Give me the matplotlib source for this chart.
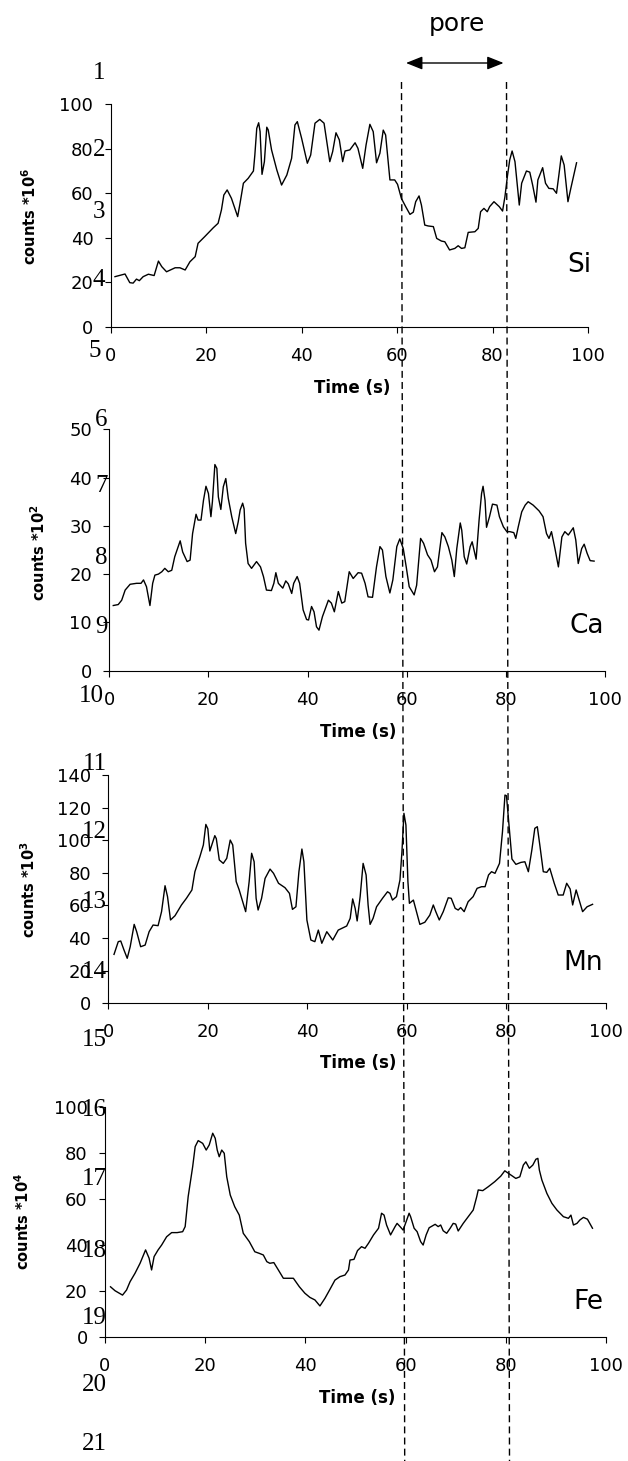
import matplotlib.pyplot as plt
from matplotlib.lines import Line2D
from matplotlib.patches import FancyArrowPatch

W, H = 628, 1461

# ── data ──────────────────────────────────────────────────────────────────────

SI_T = [0.9, 3.0, 4.0, 4.7, 5.4, 6.0, 6.8, 7.9, 9.1, 10.0, 10.7, 11.7, 13.5, 14.5,
        15.6, 16.6, 17.7, 18.3, 19.7, 21.5, 22.5, 23.2, 23.7, 24.4, 25.3, 26.6,
        27.1, 27.8, 28.8, 29.9, 30.2, 30.6, 31.0, 31.3, 31.7, 32.2, 32.7, 33.0,
        33.7, 34.8, 35.8, 36.9, 37.9, 38.6, 39.1, 40.0, 41.2, 41.9, 42.8, 43.8,
        44.7, 45.9, 46.5, 47.2, 47.9, 48.6, 49.1, 50.1, 51.2, 51.8, 52.8, 53.5,
        54.3, 55.0, 55.7, 56.4, 57.1, 57.6, 58.5, 59.5, 60.1, 60.9, 61.8, 62.7,
        63.4, 63.9, 64.6, 65.1, 65.8, 66.5, 67.6, 68.3, 69.3, 70.0, 71.0, 72.1,
        72.8, 73.5, 74.2, 74.9, 76.3, 77.0, 77.5, 78.2, 78.9, 79.4, 80.3, 81.4,
        82.1, 82.6, 83.1, 83.6, 84.1, 84.7, 85.6, 86.1, 87.1, 87.8, 88.4, 89.1,
        89.5, 90.5, 91.1, 91.8, 92.7, 93.4, 93.9, 94.4, 95.0, 95.8, 96.4, 97.6]
SI_V = [22.5, 23.7, 19.8, 19.6, 21.4, 20.7, 22.5, 23.6, 23.0, 29.5, 27.0, 24.7, 26.5, 26.5,
        25.5, 29.2, 31.5, 37.5, 40.5, 44.5, 46.5, 52.5, 59.2, 61.5, 57.7, 49.5,
        55.5, 64.5, 66.7, 70.0, 77.2, 89.2, 91.7, 87.7, 68.5, 74.2, 89.7, 88.5,
        79.5, 70.5, 63.7, 68.2, 75.7, 90.7, 92.2, 84.7, 73.5, 77.2, 91.5, 93.2,
        91.5, 74.2, 78.7, 87.2, 84.0, 74.2, 79.0, 79.5, 82.7, 80.2, 71.2, 81.7,
        91.0, 87.7, 73.7, 78.0, 88.4, 86.2, 66.0, 66.0, 64.0, 57.7, 54.0, 50.5,
        51.5, 56.2, 58.8, 54.7, 45.7, 45.3, 45.0, 39.7, 38.5, 38.2, 34.5, 35.2,
        36.4, 35.2, 35.5, 42.4, 42.7, 44.2, 51.7, 53.2, 51.7, 54.0, 56.2, 54.0,
        52.0, 58.5, 67.4, 75.0, 79.0, 74.2, 54.7, 64.5, 70.0, 69.5, 63.7, 56.0,
        66.0, 71.5, 64.5, 62.2, 62.0, 60.0, 68.2, 76.8, 72.7, 56.2, 62.2, 73.7]

CA_T = [0.8, 1.8, 2.5, 3.2, 4.2, 5.5, 6.4, 6.9, 7.5, 8.2, 8.75, 9.2, 9.9, 10.6, 11.2,
        11.9, 12.6, 13.2, 14.3, 14.8, 15.7, 16.3, 16.8, 17.5, 17.9, 18.5, 19.0, 19.5,
        20.0, 20.5, 20.8, 21.3, 21.7, 22.0, 22.5, 23.0, 23.5, 24.0, 24.7, 25.5, 26.0,
        26.4, 26.9, 27.2, 27.5, 28.0, 28.7, 29.7, 30.5, 31.1, 31.7, 32.7, 33.2, 33.6,
        34.1, 35.0, 35.6, 36.1, 36.8, 37.2, 37.9, 38.4, 39.1, 39.8, 40.2, 40.8, 41.3,
        41.8, 42.3, 43.0, 44.2, 44.8, 45.4, 46.2, 46.9, 47.5, 48.4, 49.2, 50.2, 50.9,
        51.6, 52.2, 53.1, 53.9, 54.6, 55.1, 55.8, 56.6, 57.2, 58.0, 58.6, 59.3, 59.9,
        60.5, 61.5, 62.0, 62.8, 63.4, 64.2, 64.9, 65.6, 66.2, 67.1, 67.7, 68.4, 69.1,
        69.6, 70.1, 70.8, 71.1, 71.6, 72.1, 72.8, 73.2, 74.0, 74.6, 75.1, 75.4, 75.8,
        76.1, 76.7, 77.3, 78.2, 78.7, 79.5, 80.2, 80.8, 81.6, 82.0, 82.5, 83.2, 83.9,
        84.5, 85.5, 86.7, 87.5, 88.2, 88.7, 89.2, 89.9, 90.6, 91.3, 91.9, 92.6, 93.6,
        94.1, 94.6, 95.3, 95.8, 96.4, 97.0, 97.8]
CA_V = [13.5, 13.7, 14.6, 16.7, 17.9, 18.1, 18.1, 18.8, 17.4, 13.5, 18.1, 19.8, 20.0, 20.5, 21.2,
        20.5, 20.8, 23.6, 26.9, 24.6, 22.6, 22.9, 28.4, 32.4, 31.2, 31.2, 35.3, 38.2,
        36.7, 31.9, 35.0, 42.7, 41.9, 36.0, 33.4, 38.1, 39.8, 35.7, 31.9, 28.4, 30.8,
        33.3, 34.7, 33.5, 26.4, 22.2, 21.2, 22.6, 21.5, 19.5, 16.7, 16.6, 18.1, 20.3,
        18.1, 17.1, 18.6, 18.0, 16.0, 18.1, 19.5, 18.1, 12.6, 10.6, 10.5, 13.3, 12.2,
        9.1, 8.4, 11.2, 14.6, 14.0, 12.2, 16.4, 14.0, 14.3, 20.5, 19.1, 20.3, 20.2,
        18.1, 15.3, 15.2, 21.5, 25.7, 25.0, 19.5, 16.1, 18.8, 25.7, 27.3, 25.3, 21.5,
        17.4, 15.7, 17.7, 27.4, 26.4, 24.0, 22.9, 20.5, 21.5, 28.6, 27.7, 25.7, 22.9,
        19.5, 25.3, 30.6, 29.1, 23.6, 22.1, 25.7, 26.7, 23.1, 31.2, 36.7, 38.2, 35.3,
        29.7, 31.9, 34.5, 34.3, 31.9, 29.8, 28.8, 28.8, 28.6, 27.4, 29.8, 32.9, 34.3,
        35.0, 34.3, 33.1, 31.9, 28.4, 27.4, 28.8, 25.3, 21.5, 27.7, 28.8, 28.1, 29.6,
        27.1, 22.2, 25.3, 26.2, 24.3, 22.8, 22.7]

MN_T = [1.15, 2.0, 2.5, 3.15, 3.8, 4.4, 5.2, 5.7, 6.5, 7.4, 8.2, 9.0, 10.0, 10.7, 11.4,
        11.9, 12.5, 13.4, 14.7, 15.7, 16.8, 17.4, 18.4, 19.1, 19.6, 20.0, 20.4, 20.8,
        21.4, 21.7, 22.3, 23.1, 23.8, 24.5, 25.0, 25.7, 26.3, 26.8, 27.6, 28.3, 28.8,
        29.3, 29.7, 30.1, 30.8, 31.5, 32.5, 33.2, 34.2, 35.5, 36.4, 37.0, 37.7, 38.3,
        38.9, 39.3, 39.9, 40.7, 41.5, 42.2, 42.9, 43.9, 45.1, 46.2, 47.9, 48.6, 49.1,
        49.6, 50.0, 50.6, 51.2, 51.8, 52.2, 52.6, 53.2, 53.9, 55.1, 56.1, 56.6, 57.1,
        57.9, 58.6, 59.0, 59.4, 59.8, 60.2, 60.5, 61.3, 62.0, 62.6, 63.6, 64.6, 65.3,
        65.8, 66.5, 67.3, 68.3, 68.9, 69.7, 70.3, 70.8, 71.5, 72.3, 73.3, 74.1, 75.0,
        75.7, 76.4, 77.0, 77.7, 78.6, 79.2, 79.7, 80.0, 80.5, 81.1, 81.9, 82.9, 83.7,
        84.4, 85.1, 85.7, 86.2, 86.7, 87.4, 88.1, 88.7, 89.6, 90.4, 91.4, 92.1, 92.8,
        93.3, 94.0, 94.4, 95.3, 96.2, 97.3]
MN_V = [30.0, 37.8, 38.2, 32.7, 27.6, 34.7, 48.4, 43.9, 34.7, 35.7, 43.9, 48.0, 47.6, 56.2, 72.1,
        65.4, 51.1, 53.7, 60.3, 64.4, 69.5, 80.7, 89.9, 97.1, 109.7, 107.0, 93.4, 97.1,
        102.8, 101.0, 87.9, 85.8, 88.9, 100.1, 97.1, 74.6, 69.5, 64.4, 56.2, 74.6, 92.0,
        86.8, 64.4, 57.2, 64.4, 76.6, 82.3, 79.7, 73.6, 70.9, 67.4, 57.6, 59.2, 80.7,
        94.6, 86.8, 51.1, 38.8, 37.8, 44.9, 36.8, 43.9, 38.8, 44.9, 47.4, 52.1, 64.0,
        58.2, 50.5, 65.4, 85.8, 78.7, 60.3, 48.4, 52.1, 59.2, 64.4, 68.4, 67.4, 63.3,
        65.4, 75.6, 92.9, 116.5, 109.3, 74.6, 61.3, 63.3, 55.2, 48.4, 49.7, 54.1, 60.3,
        56.2, 51.1, 56.2, 64.7, 64.4, 58.2, 57.2, 58.7, 56.2, 62.3, 65.4, 70.5, 71.5,
        71.5, 78.7, 80.7, 79.7, 85.8, 105.2, 127.7, 127.3, 109.3, 88.5, 85.2, 86.4, 86.8,
        80.7, 94.0, 107.3, 108.3, 97.1, 80.7, 80.3, 82.8, 73.6, 66.4, 66.4, 73.6, 70.1,
        60.3, 69.5, 65.4, 56.2, 59.2, 60.7]

FE_T = [1.1, 2.0, 3.5, 4.3, 5.0, 6.0, 7.0, 8.1, 8.8, 9.3, 9.8, 10.6, 11.3, 12.3, 13.3,
        14.4, 15.5, 16.0, 16.6, 17.5, 18.0, 18.6, 19.5, 20.2, 20.8, 21.5, 22.0, 22.4,
        22.8, 23.3, 23.8, 24.3, 25.0, 25.9, 26.8, 27.6, 28.8, 29.9, 30.8, 31.6, 32.3,
        32.9, 33.7, 34.6, 35.6, 36.6, 37.6, 38.8, 39.9, 40.9, 41.9, 42.9, 43.9, 44.9,
        45.9, 46.9, 47.9, 48.6, 48.9, 49.7, 50.4, 51.2, 51.9, 52.6, 53.6, 54.6, 55.2,
        55.7, 56.2, 57.0, 57.9, 58.3, 58.9, 59.5, 60.1, 60.7, 61.0, 61.7, 62.3, 63.0,
        63.5, 64.1, 64.7, 65.9, 66.5, 67.0, 67.5, 68.2, 68.9, 69.5, 70.0, 70.5, 71.5,
        72.5, 73.5, 74.2, 74.5, 75.4, 76.5, 77.8, 79.0, 79.8, 81.0, 82.0, 82.8, 83.5,
        84.0, 84.7, 85.4, 86.0, 86.4, 86.7, 87.2, 88.2, 89.2, 90.2, 91.5, 92.5, 93.0,
        93.5, 94.2, 94.8, 95.5, 96.3, 97.3]
FE_V = [21.9, 20.2, 18.3, 20.5, 24.1, 27.8, 32.1, 37.9, 34.3, 29.2, 35.0, 37.9, 40.0, 43.6, 45.4,
        45.4, 45.8, 48.0, 61.0, 74.0, 82.7, 85.3, 84.1, 81.2, 83.4, 88.5, 86.3, 81.2,
        78.3, 81.2, 79.8, 69.6, 61.7, 56.6, 53.0, 45.1, 41.5, 37.1, 36.4, 35.7, 32.8,
        32.1, 32.4, 29.2, 25.6, 25.6, 25.6, 21.9, 19.1, 17.3, 16.2, 13.6, 16.9, 20.8,
        24.8, 26.3, 27.0, 29.2, 33.5, 33.8, 37.6, 39.3, 38.6, 40.8, 44.4, 47.3, 53.8,
        53.0, 48.7, 44.4, 48.0, 49.4, 48.0, 46.5, 50.1, 53.8, 52.3, 47.3, 45.8, 41.5,
        40.0, 44.4, 47.5, 49.0, 48.0, 48.7, 46.2, 45.1, 47.3, 49.4, 49.1, 46.1, 49.4,
        52.3, 55.2, 61.0, 63.9, 63.6, 65.3, 67.5, 69.9, 72.2, 70.4, 68.9, 69.6, 74.7,
        76.1, 73.3, 74.7, 77.2, 77.6, 72.5, 68.2, 62.4, 58.1, 55.2, 52.3, 51.6, 53.0,
        48.7, 49.4, 50.9, 52.0, 51.2, 47.3]

ELEMENTS  = ["Si", "Ca", "Mn", "Fe"]
EXPONENTS = ["6", "2", "3", "4"]
Y_MAX     = [100, 50, 140, 100]
Y_STEP    = [20, 10, 20, 20]
X_TICKS   = [0, 20, 40, 60, 80, 100]
SERIES    = [(SI_T, SI_V), (CA_T, CA_V), (MN_T, MN_V), (FE_T, FE_V)]

LINE_NUMBERS = list(range(1, 22))

# ── layout (pixel positions on the 628x1461 page) ─────────────────────────────

# axes box: left, right, top, bottom
AX_BOX = [(110.7, 588.0, 104.3, 326.7),
          (109.3, 605.0, 429.3, 670.7),
          (108.3, 606.0, 775.0, 1003.3),
          (105.0, 606.0, 1106.7, 1337.3)]
ELEM_POS  = [(579, 271.7), (587, 633.3), (583, 970.0), (588, 1309.3)]
XLAB_POS  = [(352, 393.0), (358, 737.0), (358, 1068.0), (357, 1403.0)]
YLAB_POS  = [(30, 216.7), (39, 552.5), (29, 890.0), (23, 1221.7)]
LN_X = [105.4, 105.4, 105.4, 105.4, 100.6, 107.8, 107.8, 107.0, 107.8, 103.8, 106.6,
        106.6, 106.6, 106.6, 106.6, 106.6, 106.6, 106.6, 106.6, 106.6, 106.6]
LN_Y = [70.8, 147.0, 209.0, 277.5, 348.8, 417.5, 483.3, 555.0, 625.0, 693.3, 761.7,
        830.0, 900.0, 969.0, 1037.5, 1108.0, 1176.7, 1248.3, 1315.8, 1382.5, 1441.7]


def fx(x):
    return x / W


def fy(y):
    return 1 - y / H


fig = plt.figure(figsize=(W / 100, H / 100), dpi=100)

for i, (t, v) in enumerate(SERIES):
    left, right, top, bottom = AX_BOX[i]
    ax = fig.add_axes([fx(left), fy(bottom), (right - left) / W, (bottom - top) / H])
    ax.plot(t, v, color="black", lw=1.0)
    ax.set_xlim(0, 100)
    ax.set_ylim(0, Y_MAX[i])
    ax.set_xticks(X_TICKS)
    ax.set_yticks(range(0, Y_MAX[i] + 1, Y_STEP[i]))
    for side in ["top", "right"]:
        ax.spines[side].set_visible(False)
    for side in ["left", "bottom"]:
        ax.spines[side].set_linewidth(0.8)
    ax.tick_params(axis="both", direction="out", length=4, width=0.8, labelsize=13)
    ax.tick_params(axis="x", pad=10.4)
    ax.tick_params(axis="y", pad=8.5)

    fig.text(fx(ELEM_POS[i][0]), fy(ELEM_POS[i][1]), ELEMENTS[i], fontsize=19,
             ha="center", va="baseline")
    fig.text(fx(XLAB_POS[i][0]), fy(XLAB_POS[i][1]), "Time (s)", fontsize=12,
             fontweight="bold", ha="center", va="baseline")
    fig.text(fx(YLAB_POS[i][0]), fy(YLAB_POS[i][1]),
             "counts *10$^{\\mathbf{" + EXPONENTS[i] + "}}$", fontsize=10.5,
             fontweight="bold", rotation=90, ha="center", va="center")

# manuscript line numbers
for n, x, y in zip(LINE_NUMBERS, LN_X, LN_Y):
    fig.text(fx(x), fy(y + 8.5), str(n), family="Liberation Serif", fontsize=18,
             ha="right", va="baseline")

# pore boundaries across all panels
for x0, x1 in [(401.5, 404.7), (506.5, 509.5)]:
    fig.add_artist(Line2D([fx(x0), fx(x1)], [fy(82), fy(H)], transform=fig.transFigure,
                          color="black", lw=1.0, dashes=(5, 3), zorder=10))

fig.add_artist(FancyArrowPatch((fx(406), fy(63)), (fx(503.6), fy(63)),
                               transform=fig.transFigure,
                               arrowstyle="<|-|>,head_length=1.0,head_width=0.4",
                               mutation_scale=10, lw=1.0, color="black",
                               shrinkA=0, shrinkB=0))
fig.text(fx(456.6), fy(30.7), "pore", fontsize=18, ha="center", va="baseline")

fig.savefig("out.png", dpi=100)
